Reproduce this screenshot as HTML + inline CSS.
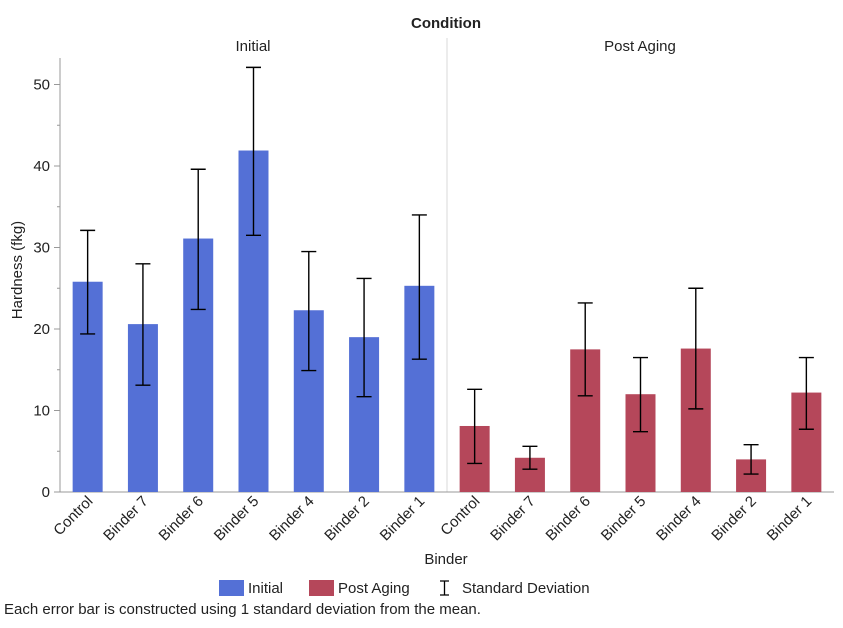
<!DOCTYPE html>
<html><head><meta charset="utf-8"><style>
body{margin:0;background:#fff;font-family:"Liberation Sans",sans-serif;}
svg text{font-family:"Liberation Sans",sans-serif;fill:#222;}
</style></head><body>
<svg id="chart" width="843" height="623" xmlns="http://www.w3.org/2000/svg">
<text x="446" y="28" text-anchor="middle" font-size="15" font-weight="bold">Condition</text>
<text x="253" y="51" text-anchor="middle" font-size="15">Initial</text>
<text x="640" y="51" text-anchor="middle" font-size="15">Post Aging</text>
<line x1="447" y1="38" x2="447" y2="492" stroke="#d8d8d8"/>
<line x1="60" y1="58" x2="60" y2="492" stroke="#999"/>
<line x1="60" y1="492" x2="834" y2="492" stroke="#999"/>
<text transform="translate(22,270) rotate(-90)" text-anchor="middle" font-size="15">Hardness (fkg)</text>
<text x="446" y="564" text-anchor="middle" font-size="15">Binder</text>
<g>
<rect x="219" y="580" width="25" height="16" fill="#5470d6"/>
<text x="248" y="593" font-size="15">Initial</text>
<rect x="309" y="580" width="25" height="16" fill="#b5475a"/>
<text x="338" y="593" font-size="15">Post Aging</text>
<path d="M440 581h9M444.5 581v14M440 595h9" stroke="#000" stroke-width="1.3" fill="none"/>
<text x="462" y="593" font-size="15">Standard Deviation</text>
</g>
<text x="4" y="614" font-size="15">Each error bar is constructed using 1 standard deviation from the mean.</text>
<g id="ticks"></g><g id="bars"></g><g id="xlabels"></g>
</svg>
<script>
const categories=["Control","Binder 7","Binder 6","Binder 5","Binder 4","Binder 2","Binder 1"];
const initialMean=[25.8,20.6,31.1,41.9,22.3,19.0,25.3];
const initialLow=[19.4,13.1,22.4,31.5,14.9,11.7,16.3];
const initialHigh=[32.1,28.0,39.6,52.1,29.5,26.2,34.0];
const agedMean=[8.1,4.2,17.5,12.0,17.6,4.0,12.2];
const agedLow=[3.5,2.8,11.8,7.4,10.2,2.2,7.7];
const agedHigh=[12.6,5.6,23.2,16.5,25.0,5.8,16.5];
const yTicks=[0,10,20,30,40,50];
const NS="http://www.w3.org/2000/svg";
function y(v){return 492-v*8.15;}
function xc(panel,i){return (panel?447:60)+387/7*(i+0.5);}
function mk(tag,attrs,parent){const e=document.createElementNS(NS,tag);for(const k in attrs)e.setAttribute(k,attrs[k]);parent.appendChild(e);return e;}
const tg=document.getElementById('ticks');
yTicks.forEach(t=>{
  const l=mk('line',{x1:54,x2:60,y1:y(t),y2:y(t),stroke:'#999'},tg);
  
  
  const tx=mk('text',{x:50,y:y(t)+5,'text-anchor':'end','font-size':15},tg);
  tx.textContent=t;
  
  
  if(t<50){const m=mk('line',{x1:57,x2:60,y1:y(t+5),y2:y(t+5),stroke:'#999'},tg);
  
  }
});
const bg=document.getElementById('bars'),xg=document.getElementById('xlabels');
[[initialMean,initialLow,initialHigh,'#5470d6'],[agedMean,agedLow,agedHigh,'#b5475a']].forEach((s,p)=>{
  categories.forEach((c,i)=>{
    const cx=xc(p,i);
    const r=mk('rect',{x:cx-15,y:y(s[0][i]),width:30,height:y(0)-y(s[0][i]),fill:s[3]},bg);
    
    
    const e=mk('path',{d:`M${cx-7.5} ${y(s[2][i])}h15M${cx} ${y(s[2][i])}V${y(s[1][i])}M${cx-7.5} ${y(s[1][i])}h15`,stroke:'#000','stroke-width':1.4,fill:'none'},bg);
    
    
    const t=mk('text',{transform:`translate(${cx+6},${502}) rotate(-45)`,'text-anchor':'end','font-size':15},xg);
    t.textContent=c;
    
    
  });
});
</script>
</body></html>
